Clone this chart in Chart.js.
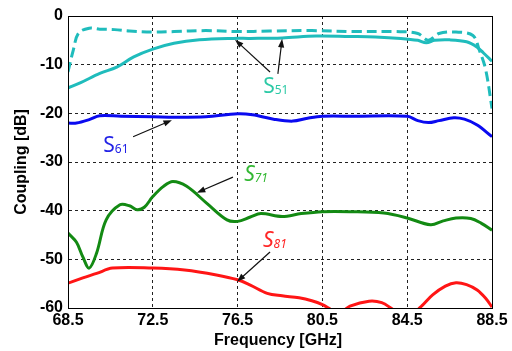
<!DOCTYPE html>
<html>
<head>
<meta charset="utf-8">
<script src="https://cdn.jsdelivr.net/npm/chart.js@4/dist/chart.umd.min.js"></script>
<style>
  html, body { margin: 0; padding: 0; background: #fff; }
  #wrap { width: 512px; height: 351px; }
</style>
</head>
<body>
<div id="wrap"><canvas id="mainChart" width="512" height="351"></canvas></div>
<script>
// values (frequency in GHz, coupling in dB)
const freqS51 = [68.5, 69.1, 70.0, 70.8, 71.6, 72.5, 73.5, 74.7, 76.3, 77.1, 78.6, 80.2, 81.8, 83.0, 84.2, 85.0, 85.4, 85.8, 86.5, 87.3, 87.8, 88.1, 88.5];
const s51 =     [-14.8, -13.7, -11.8, -10.5, -8.4, -6.8, -5.6, -4.9, -4.6, -4.6, -4.5, -4.1, -4.2, -4.3, -4.6, -5.0, -5.5, -5.0, -4.9, -5.3, -6.4, -7.6, -9.3];

const freqS51b = [68.5, 68.75, 69.0, 69.5, 70.0, 70.7, 71.4, 72.5, 73.5, 75.0, 76.5, 78.0, 80.0, 82.0, 84.0, 85.0, 85.5, 86.0, 86.8, 87.6, 87.9, 88.2, 88.5];
const s51b =     [-11.5, -7.0, -3.5, -2.5, -2.7, -2.8, -3.1, -3.3, -3.2, -3.0, -3.2, -3.1, -3.0, -3.2, -3.2, -3.6, -5.0, -3.6, -3.3, -4.0, -7.0, -11.0, -19.0];

const freqS61 = [68.5, 68.9, 69.5, 70.0, 71.0, 72.5, 73.5, 75.0, 76.5, 77.2, 78.2, 79.1, 79.8, 80.5, 82.0, 84.5, 85.0, 85.5, 86.0, 86.7, 87.2, 87.8, 88.5];
const s61 =     [-22.0, -22.0, -21.3, -20.5, -20.6, -20.7, -20.8, -20.7, -20.1, -20.3, -21.2, -21.6, -21.0, -20.6, -20.6, -20.6, -21.5, -21.9, -21.5, -20.9, -21.2, -22.4, -24.8];

const freqS71 = [68.5, 68.9, 69.2, 69.5, 69.85, 70.3, 70.95, 71.4, 71.75, 72.1, 72.5, 73.0, 73.45, 74.1, 75.05, 76.0, 76.5, 77.1, 77.6, 78.6, 79.5, 80.5, 81.8, 83.4, 84.5, 85.6, 86.2, 86.8, 87.5, 88.0, 88.5];
const s71 =     [-44.6, -46.5, -49.5, -51.8, -48.7, -41.9, -38.8, -39.0, -39.8, -39.3, -37.1, -35.0, -34.0, -35.0, -38.5, -41.9, -42.2, -41.3, -40.6, -41.2, -40.6, -40.2, -40.2, -40.5, -41.5, -42.9, -42.1, -41.5, -41.6, -42.6, -44.0];

const freqS81 = [68.5, 69.2, 69.85, 70.6, 72.5, 74.0, 75.5, 76.5, 77.1, 77.9, 78.6, 79.4, 80.0, 80.5, 81.0, 81.4, 81.8, 82.7, 83.3, 83.8, 84.3, 84.8, 85.2, 85.7, 86.3, 86.8, 87.3, 87.8, 88.2, 88.5];
const s81 =     [-54.9, -53.8, -52.9, -51.8, -51.8, -52.2, -53.2, -54.2, -55.3, -57.0, -57.5, -57.9, -58.5, -59.3, -60.5, -60.8, -59.6, -58.6, -58.9, -60.2, -61.5, -61.0, -59.5, -57.3, -55.5, -54.8, -55.2, -56.3, -58.0, -59.8];

const xTicks = [68.5, 72.5, 76.5, 80.5, 84.5, 88.5];

// annotation labels: [main, subscript, colour, italic, label x,y, arrows [[x1,y1,x2,y2]...]] in data units
const notes = [
    ["S", "51", "#2cc9a6", false, 78.3, -14.4, [[78.03, -11.5, 76.38, -4.9], [78.4, -11.9, 78.6, -4.7]]],
    ["S", "61", "#2222e6", false, 70.76, -26.5, [[71.57, -24.8, 73.4, -21.4]]],
    ["S", "71", "#33b833", true, 77.37, -32.4, [[76.28, -33.1, 74.58, -36.3]]],
    ["S", "81", "#ff2626", true, 78.26, -46.0, [[78.03, -48.5, 76.47, -54.6]]]
];

function pts(xs, ys) {
    let out = [];
    for (let i = 0; i < xs.length; i++) out.push({x: xs[i], y: ys[i]});
    return out;
}

function lineSet(xs, ys, color, dash) {
    return {
        data: pts(xs, ys),
        borderColor: color,
        borderWidth: 3,
        borderDash: dash || [],
        pointRadius: 0,
        tension: 0.35,
        fill: false,
        clip: 0
    };
}

function arrow(ctx, x1, y1, x2, y2) {
    let a = Math.atan2(y2 - y1, x2 - x1);
    ctx.beginPath();
    ctx.moveTo(x1, y1);
    ctx.lineTo(x2 - 6 * Math.cos(a), y2 - 6 * Math.sin(a));
    ctx.stroke();
    ctx.beginPath();
    ctx.moveTo(x2, y2);
    ctx.lineTo(x2 - 9 * Math.cos(a - 0.35), y2 - 9 * Math.sin(a - 0.35));
    ctx.lineTo(x2 - 9 * Math.cos(a + 0.35), y2 - 9 * Math.sin(a + 0.35));
    ctx.closePath();
    ctx.fill();
}

const extras = {
    id: "extras",
    afterDraw(chart) {
        const ctx = chart.ctx;
        const a = chart.chartArea;
        const xs = chart.scales.x, ys = chart.scales.y;
        ctx.save();
        // plot frame
        ctx.strokeStyle = "#000";
        ctx.lineWidth = 1;
        ctx.setLineDash([]);
        ctx.strokeRect(a.left + 0.5, a.top + 0.5, a.right - a.left, a.bottom - a.top);

        // axis titles
        ctx.fillStyle = "#000";
        ctx.font = "bold 16px 'Liberation Sans', Arial, sans-serif";
        ctx.textAlign = "center";
        ctx.textBaseline = "middle";
        ctx.fillText("Frequency [GHz]", 278, 341);
        ctx.save();
        ctx.translate(22, (a.top + a.bottom) / 2);
        ctx.rotate(-Math.PI / 2);
        ctx.fillText("Coupling [dB]", 0, 0);
        ctx.restore();

        // arrows + labels
        ctx.strokeStyle = "#111";
        ctx.fillStyle = "#111";
        ctx.lineWidth = 1.2;
        notes.forEach(n => {
            n[6].forEach(r => {
                arrow(ctx, xs.getPixelForValue(r[0]), ys.getPixelForValue(r[1]),
                    xs.getPixelForValue(r[2]), ys.getPixelForValue(r[3]));
            });
        });
        notes.forEach(n => {
            const px = xs.getPixelForValue(n[4]), py = ys.getPixelForValue(n[5]);
            const st = n[3] ? "italic " : "";
            ctx.fillStyle = n[2];
            ctx.textAlign = "left";
            ctx.textBaseline = "alphabetic";
            ctx.font = st + "21px 'Noto Sans', 'Open Sans', sans-serif";
            const w1 = ctx.measureText(n[0]).width;
            ctx.font = st + "12px 'Noto Sans', 'Open Sans', sans-serif";
            const w2 = ctx.measureText(n[1]).width;
            const x0 = px - (w1 + w2) / 2;
            ctx.font = st + "21px 'Noto Sans', 'Open Sans', sans-serif";
            ctx.fillText(n[0], x0, py + 7);
            ctx.font = st + "12px 'Noto Sans', 'Open Sans', sans-serif";
            ctx.fillText(n[1], x0 + w1, py + 8);
        });
        ctx.restore();
    }
};

const gridStyle = {
    color: "#222",
    lineWidth: 1,
    drawTicks: false,
    tickLength: 0
};

new Chart(document.getElementById("mainChart"), {
    type: "line",
    data: {
        datasets: [
            lineSet(freqS51b, s51b, "#1fbcbc", [10, 5]),
            lineSet(freqS51, s51, "#1fbcbc"),
            lineSet(freqS61, s61, "#0a0af0"),
            lineSet(freqS71, s71, "#138a13"),
            lineSet(freqS81, s81, "#ff1515")
        ]
    },
    options: {
        responsive: false,
        animation: false,
        events: [],
        layout: { padding: { left: 0, top: 16, right: 20, bottom: 0 } },
        plugins: { legend: { display: false }, tooltip: { enabled: false } },
        scales: {
            x: {
                type: "linear",
                min: 68.5,
                max: 88.5,
                afterBuildTicks: s => { s.ticks = xTicks.map(v => ({value: v})); },
                afterFit: s => { s.height = 43; },
                grid: gridStyle,
                border: { display: true, color: "#000", dash: [3, 3] },
                ticks: {
                    padding: 3,
                    color: "#000",
                    font: { family: "'Liberation Sans', Arial", size: 16, weight: "bold" },
                    callback: v => v.toFixed(1),
                    maxRotation: 0
                }
            },
            y: {
                min: -60,
                max: 0,
                afterFit: s => { s.width = 68; },
                grid: gridStyle,
                border: { display: true, color: "#000", dash: [3, 3] },
                ticks: {
                    stepSize: 10,
                    padding: 5,
                    color: "#000",
                    font: { family: "'Liberation Sans', Arial", size: 16, weight: "bold" }
                }
            }
        }
    },
    plugins: [extras]
});
</script>
</body>
</html>
